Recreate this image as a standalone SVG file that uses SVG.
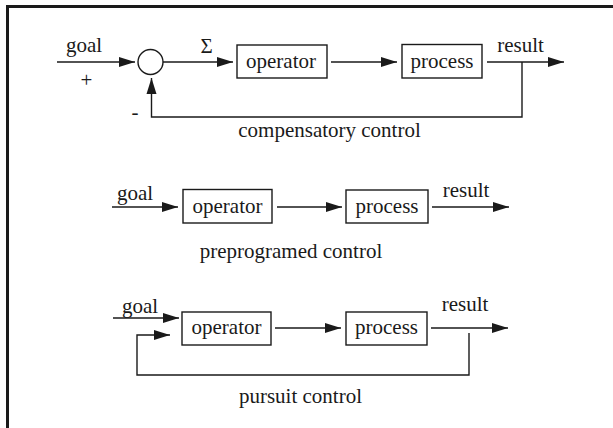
<svg xmlns="http://www.w3.org/2000/svg" width="613" height="428" viewBox="0 0 613 428">
<defs>
<marker id="arr" markerUnits="userSpaceOnUse" markerWidth="17" markerHeight="11" refX="16" refY="5.5" orient="auto">
<path d="M0,0.5 L16,5.5 L0,10.5 z" fill="#1a1a1a"/>
</marker>
</defs>
<style>
text{font-family:"Liberation Serif","Times New Roman",serif;font-size:21px;fill:#1a1a1a;text-anchor:middle}
.box{fill:#fff;stroke:#1a1a1a;stroke-width:1.4}
.ln{fill:none;stroke:#1a1a1a;stroke-width:1.4}
.ar{marker-end:url(#arr)}
.frame{fill:none;stroke:#1a1a1a;stroke-width:3}
</style>
<rect width="613" height="428" fill="#fff"/>
<path class="frame" d="M7.5,428 V6.5 H613"/>

<g id="connectors">
<!-- row 1 -->
<line class="ln ar" x1="57" y1="62" x2="135" y2="62"/>
<line class="ln ar" x1="163" y1="62" x2="233" y2="62"/>
<line class="ln ar" x1="331" y1="62" x2="397" y2="62"/>
<line class="ln ar" x1="487" y1="62" x2="564" y2="62"/>
<path class="ln ar" d="M522,62 V117 H151.5 V78"/>
<!-- row 2 -->
<line class="ln ar" x1="112" y1="207" x2="178" y2="207"/>
<line class="ln ar" x1="277" y1="207" x2="342" y2="207"/>
<line class="ln ar" x1="432" y1="207" x2="509" y2="207"/>
<!-- row 3 -->
<line class="ln ar" x1="113" y1="318" x2="179" y2="318"/>
<line class="ln ar" x1="275" y1="328" x2="341" y2="328"/>
<line class="ln ar" x1="431" y1="328" x2="508" y2="328"/>
<path class="ln ar" d="M469,333 V375 H137 V335 H170"/>
</g>

<g id="sum">
<circle cx="150.5" cy="62" r="12.5" class="box"/>
</g>
<g id="operator1">
<rect class="box" x="237" y="45" width="90" height="33"/>
<text x="281" y="68">operator</text>
</g>
<g id="process1">
<rect class="box" x="402" y="44.5" width="80" height="33.5"/>
<text x="442" y="68">process</text>
</g>
<g id="labels1">
<text x="84" y="52">goal</text>
<text x="86.5" y="87">+</text>
<text x="206.5" y="53">Σ</text>
<text x="135" y="119">-</text>
<text x="520.5" y="52">result</text>
<text x="329.5" y="137">compensatory control</text>
</g>

<g id="operator2">
<rect class="box" x="183" y="189.5" width="89" height="33.5"/>
<text x="227.5" y="213">operator</text>
</g>
<g id="process2">
<rect class="box" x="346" y="190" width="82" height="33"/>
<text x="387" y="213">process</text>
</g>
<g id="labels2">
<text x="135" y="200">goal</text>
<text x="466" y="197">result</text>
<text x="291" y="258">preprogramed control</text>
</g>

<g id="operator3">
<rect class="box" x="182" y="312" width="89" height="33"/>
<text x="226.5" y="334">operator</text>
</g>
<g id="process3">
<rect class="box" x="346" y="312" width="81" height="33"/>
<text x="386.5" y="334">process</text>
</g>
<g id="labels3">
<text x="140" y="313">goal</text>
<text x="465" y="311">result</text>
<text x="300.5" y="403">pursuit control</text>
</g>
</svg>
